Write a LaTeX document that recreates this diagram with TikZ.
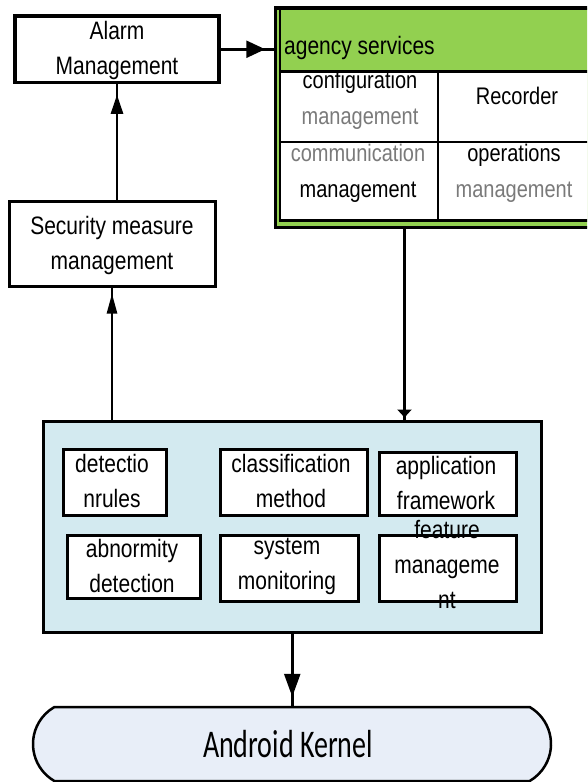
\documentclass[tikz,border=0pt]{standalone}
\usepackage{fontspec}
\setmainfont{Liberation Sans}
\newfontfamily\kernelfont{Carlito}
\usepackage{graphicx}
\usetikzlibrary{arrows.meta,decorations.markings,shapes.misc}
\definecolor{agencygreen}{HTML}{92D050}
\definecolor{layerblue}{HTML}{D3EAF0}
\definecolor{kernelfill}{HTML}{E8EEF8}
\definecolor{softgray}{HTML}{7A7A7A}
% stretch a line of text vertically
\newcommand\sy[1]{\scalebox{1}[1.2]{#1}}

\begin{document}
\begin{tikzpicture}[x=1pt,y=-1pt,
  box/.style n args={2}{draw, line width=3pt, fill=white, inner sep=0pt,
    minimum width=#1pt, minimum height=#2pt},
  lbl/.style={align=center, inner sep=0pt, font=\fontsize{21}{35}\selectfont},
  cell/.style={align=center, inner sep=0pt, font=\fontsize{20}{36}\selectfont},
  conn/.style={line width=2.5pt},
  tipat/.style n args={3}{postaction=decorate, decoration={markings,
    mark=at position -#1pt with {\arrow{Triangle[length=#2pt,width=#3pt]}}}}]

\clip (0,0) rectangle (587,782);
\fill[white] (0,0) rectangle (587,782);

% management boxes on the left
\node[box={204}{66.5}, line width=3.5pt] (alarm) at (117,49.25) {};
\node[lbl] (alarmtxt) at (117,50) {\sy{Alarm}\\\sy{Management}};

\node[box={206}{85.5}] (sec) at (112,243.75) {};
\node[lbl] (sectxt) at (112,245) {\sy{Security measure}\\\sy{management}};

% agency services panel
\node[draw, line width=3.5pt, fill=agencygreen, inner sep=0pt,
  minimum width=344.5pt, minimum height=219.5pt] (agency) at (447.75,117.75) {};
\fill[white] (280,71) rectangle (620,220.5);
\draw[line width=2.5pt] (280,8) -- (280,220.5) -- (620,220.5);
\draw[line width=3pt] (280,71) -- (620,71);
\draw[line width=2.5pt] (280,142) -- (620,142);
\draw[line width=2pt] (437.5,71) -- (437.5,220.5);

\node[lbl, anchor=west] (agtxt) at (284,48) {\sy{agency services}};
\node[cell] (cfg) at (360,100) {\sy{configuration}\\\textcolor{softgray}{\sy{management}}};
\node[cell] (rec) at (517,96) {\sy{Recorder}};
\node[cell] (com) at (358,173) {\textcolor{softgray}{\sy{communication}}\\\sy{management}};
\node[cell] (ops) at (514,173) {\sy{operations}\\\textcolor{softgray}{\sy{management}}};

% framework layer
\node[draw, line width=3pt, fill=layerblue, inner sep=0pt,
  minimum width=497.5pt, minimum height=211.5pt] (big) at (292.25,526.75) {};

\node[box={103.5}{66}] (det) at (114.75,482) {};
\node[box={147}{66}] (cls) at (294,482) {};
\node[box={137.5}{62.5}] (app) at (447.75,483.75) {};
\node[box={132.5}{63.5}] (abn) at (133.75,566.75) {};
\node[box={138}{66.5}] (sys) at (289.5,568.25) {};
\node[box={137.5}{66.5}] (fea) at (447.75,568.25) {};

\node[lbl] (dettxt) at (112,481) {\sy{detectio}\\\sy{nrules}};
\node[lbl] (clstxt) at (291,481) {\sy{classification}\\\sy{method}};
\node[lbl] (apptxt) at (446,483) {\sy{application}\\\sy{framework}};
\node[lbl] (abntxt) at (132,566) {\sy{abnormity}\\\sy{detection}};
\node[lbl] (systxt) at (287,566) {\sy{system}\\\sy{monitoring}};
\node[lbl] (featxt) at (447,564) {\sy{feature}\\\sy{manageme}\\\sy{nt}};

% kernel
\node[draw, line width=2.5pt, fill=kernelfill, rounded rectangle,
  rounded rectangle arc length=120, inner sep=0pt,
  minimum width=518pt, minimum height=74pt] (kernel) at (292,744) {};
\node[font=\kernelfont\fontsize{28}{30}\selectfont, inner sep=0pt]
  (kerneltxt) at (288,744) {\scalebox{1}[1.4]{Android Kernel}};

% connectors
\coordinate (agOut) at (404.5,227.5);
\draw[conn, tipat={8.5}{19}{17}] (alarm.east) -- (alarm.east -| agency.west);
\draw[conn, tipat={10.5}{19}{12}] (alarm.south |- sec.north) -- (alarm.south);
\draw[conn, tipat={5.5}{20}{10}] (sec.south |- big.north) -- (sec.south);
\draw[conn, tipat={2}{8}{14}] (agOut) -- (agOut |- big.north);
\draw[conn, tipat={9}{23}{16}] (big.south) -- (big.south |- kernel.north);

\end{tikzpicture}
\end{document}
